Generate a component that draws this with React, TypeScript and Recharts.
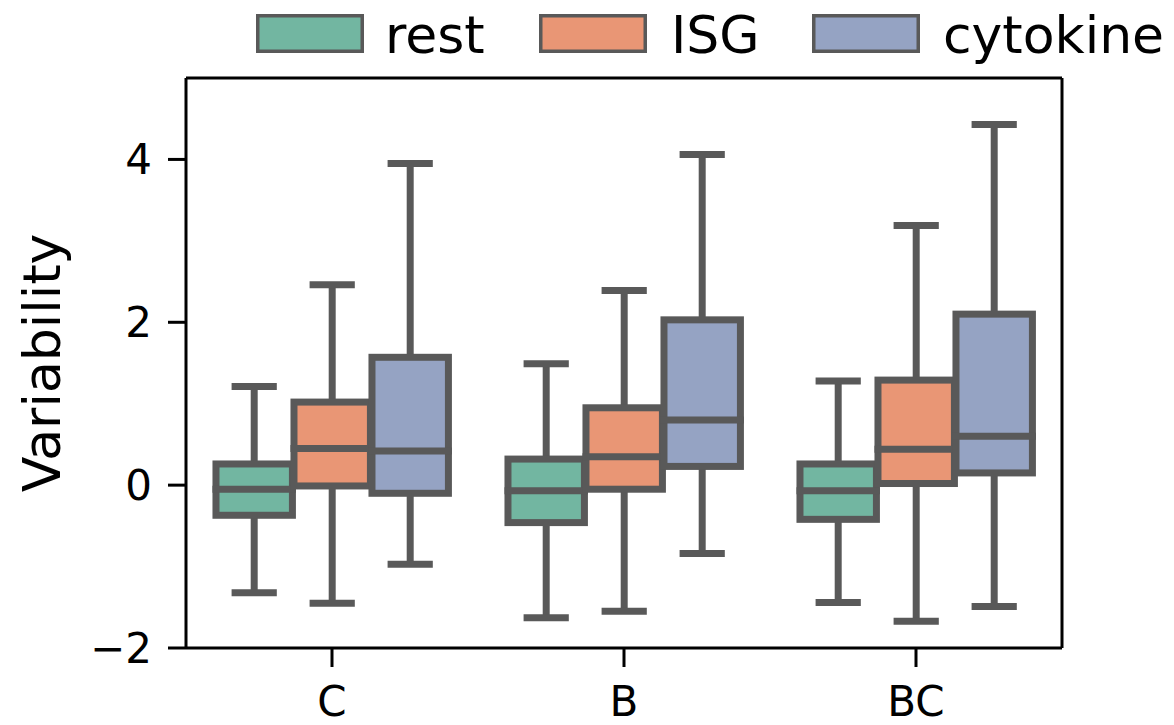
import React from "react";
import {
  ComposedChart,
  Bar,
  XAxis,
  YAxis,
  Legend,
  Label,
} from "recharts";

// five-number summaries per group: [low whisker, Q1, median, Q3, high whisker]
const groups = ["C", "B", "BC"];
const rest = [
  [-1.32, -0.37, -0.05, 0.26, 1.21],
  [-1.63, -0.46, -0.07, 0.32, 1.49],
  [-1.44, -0.42, -0.07, 0.26, 1.28],
];
const isg = [
  [-1.45, -0.01, 0.45, 1.02, 2.46],
  [-1.55, -0.05, 0.35, 0.95, 2.39],
  [-1.67, 0.02, 0.44, 1.29, 3.19],
];
const cytokine = [
  [-0.97, -0.1, 0.42, 1.57, 3.95],
  [-0.84, 0.23, 0.8, 2.03, 4.06],
  [-1.49, 0.15, 0.6, 2.1, 4.43],
];
const seriesNames = ["rest", "ISG", "cytokine"];
const seriesColors = ["#72b6a1", "#e99675", "#95a3c3"];
const yTicks = [-2, 0, 2, 4];

const FONT = "DejaVu Sans";
const LINE = "#595959";
const LW = 7;

const data = groups.map((g, i) => ({
  group: g,
  rest: [rest[i][0], rest[i][4]],
  restStats: rest[i],
  ISG: [isg[i][0], isg[i][4]],
  ISGStats: isg[i],
  cytokine: [cytokine[i][0], cytokine[i][4]],
  cytokineStats: cytokine[i],
}));

function boxShape(statsKey: string, fill: string) {
  return (props: any) => {
    const { x, y, width, height, payload } = props;
    const s = payload[statsKey];
    const top = Math.min(y, y + height);
    const bottom = Math.max(y, y + height);
    // map value -> pixel using the bar's own scaled extent (low..high)
    const px = (v: number) => top + ((s[4] - v) / (s[4] - s[0])) * (bottom - top);
    const w = width * 0.98;
    const cx = x + width / 2;
    const capHalf = w / 4;
    return (
      <g>
        <line x1={cx} x2={cx} y1={px(s[4])} y2={px(s[3])} stroke={LINE} strokeWidth={LW} />
        <line x1={cx} x2={cx} y1={px(s[1])} y2={px(s[0])} stroke={LINE} strokeWidth={LW} />
        <line x1={cx - capHalf} x2={cx + capHalf} y1={px(s[4])} y2={px(s[4])} stroke={LINE} strokeWidth={LW} strokeLinecap="square" />
        <line x1={cx - capHalf} x2={cx + capHalf} y1={px(s[0])} y2={px(s[0])} stroke={LINE} strokeWidth={LW} strokeLinecap="square" />
        <rect x={cx - w / 2} y={px(s[3])} width={w} height={px(s[1]) - px(s[3])} fill={fill} stroke={LINE} strokeWidth={LW} />
        <line x1={cx - w / 2} x2={cx + w / 2} y1={px(s[2])} y2={px(s[2])} stroke={LINE} strokeWidth={LW} strokeLinecap="square" />
      </g>
    );
  };
}

// legend positions (left edge of each patch / text)
const legendPatchX = [256, 539, 812];
const legendTextX = [385, 671, 943];

function renderLegend() {
  return (
    <svg width={1174} height={70} style={{ display: "block" }}>
      {seriesNames.map((name, i) => (
        <g key={name}>
          <rect
            x={legendPatchX[i] + 1.75}
            y={15.75}
            width={104.5}
            height={35.5}
            fill={seriesColors[i]}
            stroke={LINE}
            strokeWidth={3.5}
          />
          <text x={legendTextX[i]} y={53} fontSize={52} fontFamily={FONT} fill="#000">
            {name}
          </text>
        </g>
      ))}
    </svg>
  );
}

const fmt = (v: number) => (v < 0 ? "\u2212" + Math.abs(v) : String(v));

export default function App() {
  const tickStyle = { fill: "#000", fontSize: 42, fontFamily: FONT };
  return (
    <div style={{ position: "absolute", left: 0, top: 0, background: "#fff" }}>
      <ComposedChart
        width={1174}
        height={725}
        data={data}
        margin={{ top: 77, right: 111, left: 0, bottom: 0 }}
        barCategoryGap="10%"
        barGap={0}
      >
        <XAxis
          dataKey="group"
          height={77}
          tickSize={19}
          tickMargin={19}
          tick={tickStyle}
          axisLine={{ stroke: "#000", strokeWidth: 3 }}
          tickLine={{ stroke: "#000", strokeWidth: 3 }}
        />
        <XAxis
          xAxisId="top"
          orientation="top"
          dataKey="group"
          height={1}
          tick={false}
          tickLine={false}
          axisLine={{ stroke: "#000", strokeWidth: 3 }}
        />
        <YAxis
          type="number"
          domain={[-2, 5]}
          ticks={yTicks}
          allowDataOverflow
          width={186}
          tickSize={18}
          tickMargin={16}
          tickFormatter={fmt}
          tick={tickStyle}
          axisLine={{ stroke: "#000", strokeWidth: 3 }}
          tickLine={{ stroke: "#000", strokeWidth: 3 }}
        >
          <Label
            content={(p: any) => {
              const vb = p.viewBox || { x: 0, y: 78, width: 186, height: 570 };
              return (
                <text
                  transform={`translate(${vb.x + 60}, ${vb.y + vb.height / 2}) rotate(-90)`}
                  textAnchor="middle"
                  fontSize={52}
                  fontFamily={FONT}
                  fill="#000"
                >
                  Variability
                </text>
              );
            }}
          />
        </YAxis>
        <YAxis
          yAxisId="right"
          orientation="right"
          type="number"
          domain={[-2, 5]}
          width={1}
          tick={false}
          tickLine={false}
          axisLine={{ stroke: "#000", strokeWidth: 3 }}
        />
        <Legend
          layout="horizontal"
          verticalAlign="middle"
          content={renderLegend}
          wrapperStyle={{ top: 0, left: 0, width: 1174, height: 70 }}
        />
        <Bar dataKey="rest" fill={seriesColors[0]} isAnimationActive={false} shape={boxShape("restStats", seriesColors[0])} />
        <Bar dataKey="ISG" fill={seriesColors[1]} isAnimationActive={false} shape={boxShape("ISGStats", seriesColors[1])} />
        <Bar dataKey="cytokine" fill={seriesColors[2]} isAnimationActive={false} shape={boxShape("cytokineStats", seriesColors[2])} />
      </ComposedChart>
    </div>
  );
}
